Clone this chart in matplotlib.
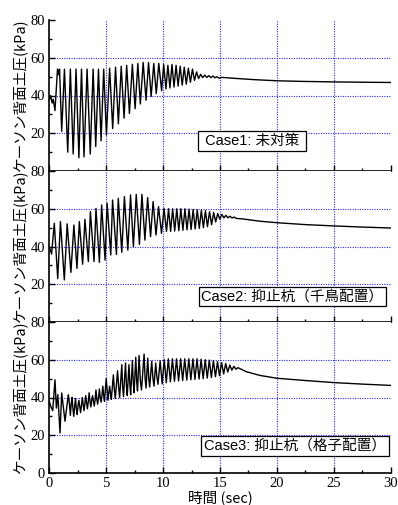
import matplotlib
matplotlib.use("Agg")
import matplotlib.pyplot as plt
from matplotlib.ticker import MultipleLocator
from matplotlib.font_manager import FontProperties

plt.rcParams["font.family"] = ["Liberation Serif", "DejaVu Serif"]

# ---------------- data (extrema) ----------------
case1_t = [0, 0.12, 0.25, 0.35, 0.5, 0.72, 0.82, 0.9, 1.09, 1.33, 1.62, 1.85, 2.1, 2.35, 2.6, 2.83,
           3.05, 3.32, 3.6, 3.85, 4.08, 4.32, 4.55, 4.78, 5.02, 5.3, 5.57, 5.82, 6.07, 6.32, 6.57,
           6.8, 7.04, 7.3, 7.54, 7.78, 8.0, 8.25, 8.5, 8.72, 8.95, 9.18, 9.4, 9.62, 9.87, 10.05,
           10.25, 10.42, 10.6, 10.78, 10.96, 11.14, 11.32, 11.5, 11.68, 11.86, 12.04, 12.22, 12.4,
           12.58, 12.76, 12.94, 13.12, 13.3, 13.48, 13.66, 13.84, 14.02, 14.2, 14.38, 14.56, 14.74,
           14.92, 15.2, 16, 17, 18, 20, 22, 25, 28, 30]
case1_v = [37.5, 40, 36, 38, 32, 54, 51, 54, 21, 54, 10, 54, 9, 54, 7, 54,
           7.5, 54, 9, 54, 13, 54, 16, 54, 19, 54.5, 22.5, 55, 25, 55.5, 28,
           56, 30.5, 56.5, 33, 57, 35.5, 57.5, 37.5, 57.5, 39.5, 57, 41, 57, 42.5, 56.5,
           43.5, 56, 44, 56.5, 44.5, 56, 45, 55.5, 45.5, 55, 46, 54.5, 47,
           54, 48, 52.5, 49, 51.2, 49.5, 50.8, 49.6, 50.5, 49.5, 50.3, 49.4, 49.9,
           49.2, 49.6, 49.2, 48.8, 48.4, 47.8, 47.5, 47.2, 47.0, 46.9]

case2_t = [0, 0.2, 0.44, 0.74, 0.98, 1.32, 1.57, 1.9, 2.16, 2.43, 2.64, 2.93, 3.13, 3.43, 3.61,
           3.93, 4.1, 4.4, 4.6, 4.9, 5.08, 5.4, 5.56, 5.9, 6.06, 6.37, 6.6, 6.9, 7.14, 7.39, 7.64,
           7.92, 8.14, 8.4, 8.64, 8.9, 9.12, 9.38, 9.6, 9.86, 10.08, 10.3, 10.48, 10.66, 10.84,
           11.02, 11.2, 11.38, 11.56, 11.74, 11.92, 12.1, 12.28, 12.46, 12.64, 12.82, 13.0, 13.18,
           13.36, 13.54, 13.72, 13.9, 14.08, 14.26, 14.44, 14.62, 14.8, 14.98, 15.16, 15.34, 15.52,
           15.7, 15.88, 16.06, 16.24, 16.42, 17, 18.5, 20, 22.5, 25, 27.5, 30]
case2_v = [40, 36, 52.3, 23, 53.2, 22.3, 52, 26.3, 51.4, 28.4, 53.2, 30.6, 54.4, 32, 58.5,
           32, 60.2, 31.6, 62, 32.8, 62.9, 35.5, 64.6, 35.8, 65.5, 36.9, 66.4, 38.1, 67.3, 39.9, 67.6,
           41.1, 67.6, 43.4, 65.9, 45.2, 63.8, 46.1, 61.1, 47, 60.2, 48, 60, 48, 60,
           48.2, 60, 48.4, 60, 48.6, 60, 48.8, 59.8, 49, 59.6, 49.3, 59.4, 49.6,
           59.2, 50, 59, 50.5, 58.5, 51.5, 58, 53, 57.5, 54.5, 57, 55.2, 56.5,
           55.2, 56, 55.1, 55.6, 54.9, 54.6, 53.4, 52.6, 51.6, 50.9, 50.3, 49.8]

case3_t = [0, 0.15, 0.3, 0.5, 0.62, 0.75, 0.94, 1.09, 1.38, 1.67, 1.78, 1.85, 1.93, 2.0, 2.08,
           2.15, 2.23, 2.3, 2.38, 2.45, 2.53, 2.6, 2.68, 2.75, 2.83, 2.9, 2.98, 3.05, 3.13, 3.2,
           3.28, 3.35, 3.43, 3.5, 3.58, 3.65, 3.73, 3.8, 3.88, 3.95, 4.03, 4.1, 4.18, 4.25, 4.33,
           4.4, 4.48, 4.55, 4.63, 4.7, 4.78, 4.85, 5.0,
           5.1, 5.15, 5.3, 5.38, 5.45, 5.63, 5.72, 5.8, 6.0, 6.1, 6.18, 6.37, 6.44, 6.52, 6.7,
           6.78, 6.85, 7.0, 7.08, 7.15, 7.3, 7.38, 7.45, 7.6, 7.68, 7.75, 7.89, 8.0, 8.1, 8.33,
           8.42, 8.5, 8.65, 8.74, 8.82, 9.0, 9.1, 9.2, 9.35, 9.45, 9.55, 9.74, 9.92, 10.1, 10.28,
           10.46, 10.64, 10.82, 11.0, 11.18, 11.36, 11.54, 11.72, 11.9, 12.08, 12.26, 12.44, 12.62,
           12.8, 12.98, 13.16, 13.34, 13.52, 13.7, 13.88, 14.06, 14.24, 14.42, 14.6, 14.78, 14.96,
           15.14, 15.32, 15.5, 15.68, 15.86, 16.04, 16.22, 16.4, 16.58, 17.3, 18.5, 20, 22.5, 25,
           27.5, 30]
case3_v = [38, 35, 33, 49.4, 34.4, 41.5, 21.2, 42.4, 27.4, 41.5, 36, 30.5, 37, 40, 34,
           30, 35, 39.5, 34, 31, 36, 38.5, 35, 32, 36, 40, 36, 33, 37, 41,
           37, 34, 38, 42.5, 38, 35, 38.5, 41, 38, 35.5, 39, 44, 39, 36.5, 40,
           44.5, 40, 37.5, 41, 46, 41, 38, 50,
           43, 38.5, 46, 42, 39, 52, 44, 39.5, 54.2, 45, 40, 57.4, 46, 40.5, 58.3,
           46, 41, 57.4, 47, 41.5, 59.5, 48, 42.5, 61.3, 48.5, 43.5, 62.3, 49, 44, 63,
           50, 45, 60.9, 50, 45.5, 59.2, 50.5, 46, 58.3, 51, 47, 59.5, 47.2, 60, 47.8,
           60.5, 48.3, 60.5, 48.6, 60.5, 48.8, 60.5, 49, 60.5, 49.2, 60.5, 49.4, 60.5,
           49.6, 60.5, 49.8, 60.3, 50, 60, 50.3, 59.8, 50.6, 59.5, 51, 59, 51.5,
           58.5, 52.5, 58, 53.5, 57.2, 54.5, 56.5, 55, 55.8, 53.7, 51.7, 50.2, 49, 47.9,
           47.1, 46.4]

cases = [(case1_t, case1_v, " Case1: 未対策 "),
         (case2_t, case2_v, "Case2: 抑止杭（千鳥配置）"),
         (case3_t, case3_v, "Case3: 抑止杭（格子配置）")]
# box centres in pixels (x, y)
box_px = [(252.2, 141.0), (292.5, 296.5), (295.4, 445.7)]

ylabel = "ケーソン背面土圧(kPa)"
xlabel = "時間 (sec)"
yticks = [0, 20, 40, 60, 80]
xticks = [0, 5, 10, 15, 20, 25, 30]
grid_x = [5, 10, 15, 20, 25]
grid_y = [20, 40, 60]

# ---------------- figure ----------------
W, H = 398, 505
fig = plt.figure(figsize=(W / 100, H / 100), dpi=100)
x0, x1 = 49.3, 390.7
left = x0 / W
width = (x1 - x0) / W
tops = [20, 171, 322]
ph = 151

tick_fp = FontProperties(family="Liberation Serif", size=10.5)
sans = ["Liberation Sans", "Noto Sans CJK JP"]
cjk = ["Noto Sans CJK JP", "Liberation Sans"]

for i, (t, v, label) in enumerate(cases):
    top = tops[i]
    ax = fig.add_axes([left, 1 - (top + ph) / H, width, ph / H])
    ax.set_xlim(0, 30)
    ax.set_ylim(0, 80)
    for gx in grid_x:
        ax.axvline(gx, color="#2a2aff", lw=0.8, ls=(0, (1, 1.2)), zorder=1)
    for gy in grid_y:
        ax.axhline(gy, color="#2a2aff", lw=0.8, ls=(0, (1, 1.2)), zorder=1)
    ax.plot(t, v, color="black", lw=1.0, zorder=3)
    ax.spines["top"].set_visible(False)
    ax.spines["right"].set_visible(False)
    ax.spines["left"].set_linewidth(1.2)
    ax.spines["bottom"].set_linewidth(1.2)
    ax.yaxis.set_minor_locator(MultipleLocator(10))
    ax.xaxis.set_minor_locator(MultipleLocator(2.5))
    ax.tick_params(which="major", direction="in", length=4, width=1.0, pad=3)
    ax.tick_params(which="minor", direction="in", length=2.5, width=1.0)
    ax.set_yticks(yticks)
    ax.set_xticks(xticks)
    if i < 2:
        ax.set_yticklabels(["", "20", "40", "60", "80"], fontproperties=tick_fp)
        ax.set_xticklabels([])
    else:
        ax.set_yticklabels([str(y) for y in yticks], fontproperties=tick_fp)
        ax.set_xticklabels([str(x) for x in xticks], fontproperties=tick_fp)
    bx = (box_px[i][0] - x0) / (x1 - x0)
    by = (top + ph - box_px[i][1]) / ph
    ax.text(bx, by, label, transform=ax.transAxes,
            ha="center", va="center", fontsize=10.5, family=sans, zorder=5,
            bbox=dict(boxstyle="square,pad=0.2", fc="white", ec="black", lw=0.9))
    fig.text(20 / W, 1 - (top + ph / 2) / H, ylabel, rotation=90, ha="center", va="center",
             fontsize=10.5, family=cjk)
    if i == 2:
        ax.set_xlabel(xlabel, fontsize=10.5, family=cjk, labelpad=0)

fig.savefig("out.png", dpi=100)
